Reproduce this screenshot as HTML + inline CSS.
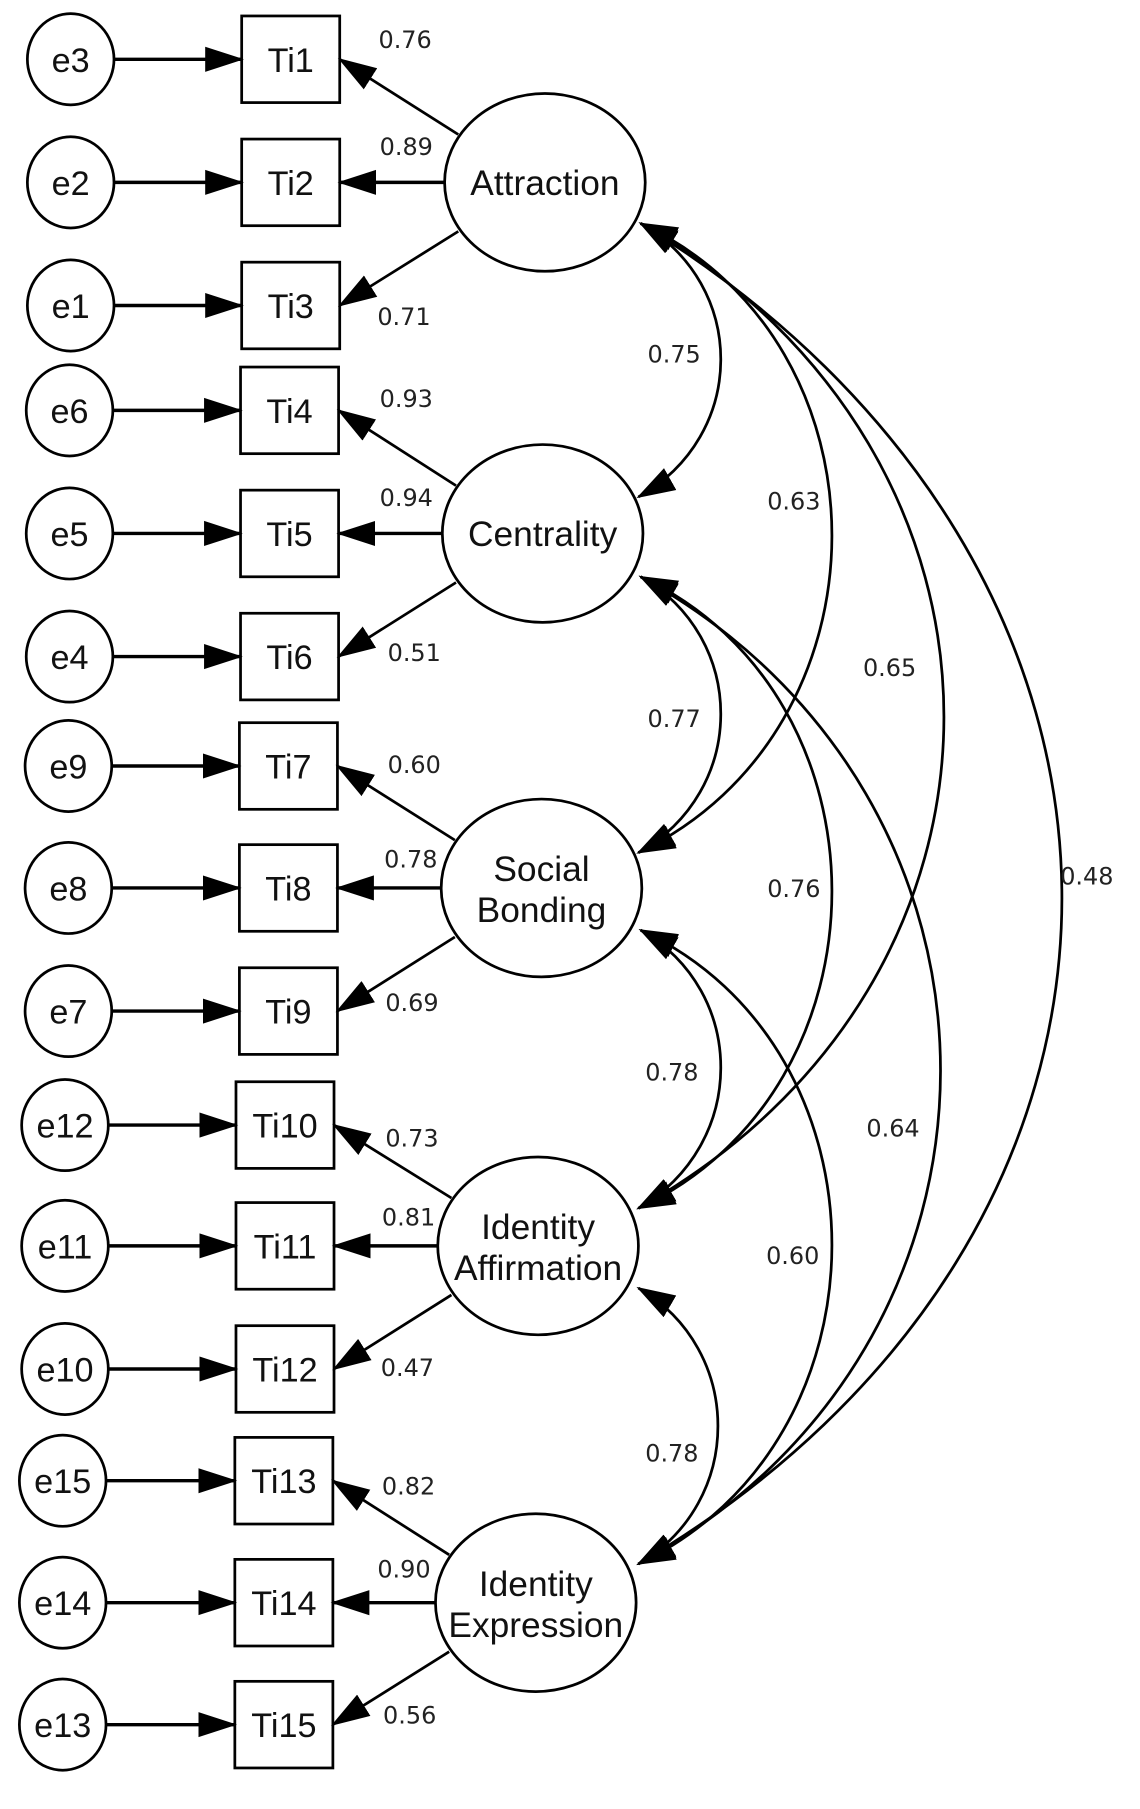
<!DOCTYPE html>
<html><head><meta charset="utf-8"><style>
html,body{margin:0;padding:0;background:#fff;}
svg{display:block;}
.n{font-family:"Liberation Sans",sans-serif;font-size:30px;fill:#111;text-anchor:middle;}
.m{font-family:"Liberation Sans",sans-serif;font-size:31px;fill:#111;text-anchor:middle;}
.l{font-family:"DejaVu Sans","Liberation Sans",sans-serif;font-size:21px;fill:#222;}
</style></head><body>
<svg width="1140" height="1809" viewBox="0 0 1000 1587" preserveAspectRatio="none" xmlns="http://www.w3.org/2000/svg">
<defs>
<marker id="a" markerUnits="userSpaceOnUse" markerWidth="34" markerHeight="24" refX="32" refY="11" orient="auto-start-reverse" viewBox="0 0 34 22"><path d="M0,0 L34,11 L0,22 Z" fill="#000"/></marker>
</defs>
<g stroke="#000" stroke-width="2.4" fill="none">
<ellipse cx="62" cy="52" rx="38" ry="40"/><rect x="212" y="14" width="86" height="76"/><line x1="100" y1="52" x2="212" y2="52" stroke-width="3" marker-end="url(#a)"/>
<ellipse cx="62" cy="160" rx="38" ry="40"/><rect x="212" y="122" width="86" height="76"/><line x1="100" y1="160" x2="212" y2="160" stroke-width="3" marker-end="url(#a)"/>
<ellipse cx="62" cy="268" rx="38" ry="40"/><rect x="212" y="230" width="86" height="76"/><line x1="100" y1="268" x2="212" y2="268" stroke-width="3" marker-end="url(#a)"/>
<ellipse cx="61" cy="360" rx="38" ry="40"/><rect x="211" y="322" width="86" height="76"/><line x1="99" y1="360" x2="211" y2="360" stroke-width="3" marker-end="url(#a)"/>
<ellipse cx="61" cy="468" rx="38" ry="40"/><rect x="211" y="430" width="86" height="76"/><line x1="99" y1="468" x2="211" y2="468" stroke-width="3" marker-end="url(#a)"/>
<ellipse cx="61" cy="576" rx="38" ry="40"/><rect x="211" y="538" width="86" height="76"/><line x1="99" y1="576" x2="211" y2="576" stroke-width="3" marker-end="url(#a)"/>
<ellipse cx="60" cy="672" rx="38" ry="40"/><rect x="210" y="634" width="86" height="76"/><line x1="98" y1="672" x2="210" y2="672" stroke-width="3" marker-end="url(#a)"/>
<ellipse cx="60" cy="779" rx="38" ry="40"/><rect x="210" y="741" width="86" height="76"/><line x1="98" y1="779" x2="210" y2="779" stroke-width="3" marker-end="url(#a)"/>
<ellipse cx="60" cy="887" rx="38" ry="40"/><rect x="210" y="849" width="86" height="76"/><line x1="98" y1="887" x2="210" y2="887" stroke-width="3" marker-end="url(#a)"/>
<ellipse cx="57" cy="987" rx="38" ry="40"/><rect x="207" y="949" width="86" height="76"/><line x1="95" y1="987" x2="207" y2="987" stroke-width="3" marker-end="url(#a)"/>
<ellipse cx="57" cy="1093" rx="38" ry="40"/><rect x="207" y="1055" width="86" height="76"/><line x1="95" y1="1093" x2="207" y2="1093" stroke-width="3" marker-end="url(#a)"/>
<ellipse cx="57" cy="1201" rx="38" ry="40"/><rect x="207" y="1163" width="86" height="76"/><line x1="95" y1="1201" x2="207" y2="1201" stroke-width="3" marker-end="url(#a)"/>
<ellipse cx="55" cy="1299" rx="38" ry="40"/><rect x="206" y="1261" width="86" height="76"/><line x1="93" y1="1299" x2="206" y2="1299" stroke-width="3" marker-end="url(#a)"/>
<ellipse cx="55" cy="1406" rx="38" ry="40"/><rect x="206" y="1368" width="86" height="76"/><line x1="93" y1="1406" x2="206" y2="1406" stroke-width="3" marker-end="url(#a)"/>
<ellipse cx="55" cy="1513" rx="38" ry="40"/><rect x="206" y="1475" width="86" height="76"/><line x1="93" y1="1513" x2="206" y2="1513" stroke-width="3" marker-end="url(#a)"/>

<ellipse cx="478" cy="160" rx="88" ry="78"/>
<ellipse cx="476" cy="468" rx="88" ry="78"/>
<ellipse cx="475" cy="779" rx="88" ry="78"/>
<ellipse cx="472" cy="1093" rx="88" ry="78"/>
<ellipse cx="470" cy="1406" rx="88" ry="78"/>

<line x1="402" y1="118" x2="298" y2="52" marker-end="url(#a)"/>
<line x1="390" y1="160" x2="298" y2="160" stroke-width="3" marker-end="url(#a)"/>
<line x1="402" y1="203" x2="298" y2="268" marker-end="url(#a)"/>
<line x1="400" y1="426" x2="297" y2="360" marker-end="url(#a)"/>
<line x1="388" y1="468" x2="297" y2="468" stroke-width="3" marker-end="url(#a)"/>
<line x1="400" y1="511" x2="297" y2="576" marker-end="url(#a)"/>
<line x1="399" y1="737" x2="296" y2="672" marker-end="url(#a)"/>
<line x1="387" y1="779" x2="296" y2="779" stroke-width="3" marker-end="url(#a)"/>
<line x1="399" y1="822" x2="296" y2="887" marker-end="url(#a)"/>
<line x1="396" y1="1051" x2="293" y2="987" marker-end="url(#a)"/>
<line x1="384" y1="1093" x2="293" y2="1093" stroke-width="3" marker-end="url(#a)"/>
<line x1="396" y1="1136" x2="293" y2="1201" marker-end="url(#a)"/>
<line x1="394" y1="1364" x2="292" y2="1299" marker-end="url(#a)"/>
<line x1="382" y1="1406" x2="292" y2="1406" stroke-width="3" marker-end="url(#a)"/>
<line x1="394" y1="1449" x2="292" y2="1513" marker-end="url(#a)"/>

<path d="M562,196 C656,250 656,382 560,436" marker-start="url(#a)" marker-end="url(#a)"/>
<path d="M562,196 C786,300 786,640 560,748" marker-start="url(#a)" marker-end="url(#a)"/>
<path d="M562,196 C917,400 917,860 560,1060" marker-start="url(#a)" marker-end="url(#a)"/>
<path d="M562,196 C1055,500 1055,1080 560,1372" marker-start="url(#a)" marker-end="url(#a)"/>
<path d="M562,506 C656,560 656,694 560,748" marker-start="url(#a)" marker-end="url(#a)"/>
<path d="M562,506 C786,610 786,955 560,1060" marker-start="url(#a)" marker-end="url(#a)"/>
<path d="M562,506 C913,700 913,1180 560,1372" marker-start="url(#a)" marker-end="url(#a)"/>
<path d="M562,816 C656,870 656,1004 560,1060" marker-start="url(#a)" marker-end="url(#a)"/>
<path d="M562,816 C786,920 786,1265 560,1372" marker-start="url(#a)" marker-end="url(#a)"/>
<path d="M560,1130 C653,1184 653,1318 560,1372" marker-start="url(#a)" marker-end="url(#a)"/>
</g>

<g class="n">
<text x="62" y="63">e3</text><text x="255" y="63">Ti1</text>
<text x="62" y="171">e2</text><text x="255" y="171">Ti2</text>
<text x="62" y="279">e1</text><text x="255" y="279">Ti3</text>
<text x="61" y="371">e6</text><text x="254" y="371">Ti4</text>
<text x="61" y="479">e5</text><text x="254" y="479">Ti5</text>
<text x="61" y="587">e4</text><text x="254" y="587">Ti6</text>
<text x="60" y="683">e9</text><text x="253" y="683">Ti7</text>
<text x="60" y="790">e8</text><text x="253" y="790">Ti8</text>
<text x="60" y="898">e7</text><text x="253" y="898">Ti9</text>
<text x="57" y="998">e12</text><text x="250" y="998">Ti10</text>
<text x="57" y="1104">e11</text><text x="250" y="1104">Ti11</text>
<text x="57" y="1212">e10</text><text x="250" y="1212">Ti12</text>
<text x="55" y="1310">e15</text><text x="249" y="1310">Ti13</text>
<text x="55" y="1417">e14</text><text x="249" y="1417">Ti14</text>
<text x="55" y="1524">e13</text><text x="249" y="1524">Ti15</text>
</g>
<g class="m">
<text x="478" y="171">Attraction</text>
<text x="476" y="479">Centrality</text>
<text x="475" y="773">Social</text><text x="475" y="809">Bonding</text>
<text x="472" y="1087">Identity</text><text x="472" y="1123">Affirmation</text>
<text x="470" y="1400">Identity</text><text x="470" y="1436">Expression</text>
</g>
<g class="l">
<text x="332" y="42">0.76</text>
<text x="333" y="136">0.89</text>
<text x="331" y="285">0.71</text>
<text x="333" y="357">0.93</text>
<text x="333" y="444">0.94</text>
<text x="340" y="580">0.51</text>
<text x="340" y="678">0.60</text>
<text x="337" y="761">0.78</text>
<text x="338" y="887">0.69</text>
<text x="338" y="1006">0.73</text>
<text x="335" y="1075">0.81</text>
<text x="334" y="1207">0.47</text>
<text x="335" y="1311">0.82</text>
<text x="331" y="1384">0.90</text>
<text x="336" y="1512">0.56</text>
<text x="568" y="318">0.75</text>
<text x="673" y="447">0.63</text>
<text x="568" y="638">0.77</text>
<text x="757" y="593">0.65</text>
<text x="673" y="787">0.76</text>
<text x="930" y="776">0.48</text>
<text x="566" y="948">0.78</text>
<text x="760" y="997">0.64</text>
<text x="672" y="1109">0.60</text>
<text x="566" y="1282">0.78</text>
</g>
</svg>
</body></html>
